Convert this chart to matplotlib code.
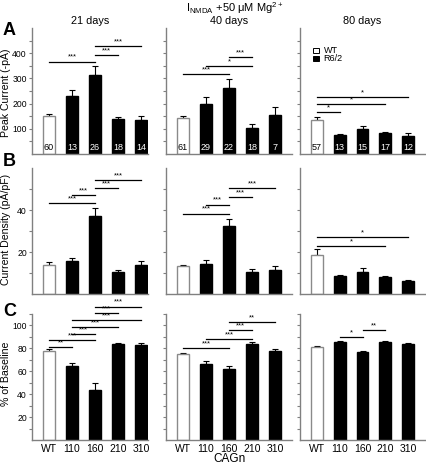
import matplotlib
matplotlib.use("Agg")
import matplotlib.pyplot as plt
from matplotlib.patches import Rectangle

plt.rcParams['font.family'] = ['Liberation Sans', 'DejaVu Sans']

# ---------------- data ----------------
groups = ['WT', '110', '160', '210', '310']
ages = ['21 days', '40 days', '80 days']

peak_21 = [150, 231, 312, 139, 135]
peak_21_err = [7, 22, 39, 9, 17]
peak_40 = [143, 200, 260, 104, 154]
peak_40_err = [8, 28, 39, 14, 31]
peak_80 = [134, 74, 101, 83, 72]
peak_80_err = [13, 5, 9, 5, 11]

n_21 = ['60', '13', '26', '18', '14']
n_40 = ['61', '29', '22', '18', '7']
n_80 = ['57', '13', '15', '17', '12']

dens_21 = [14.0, 15.7, 37.0, 10.5, 13.9]
dens_21_err = [1.1, 1.3, 3.8, 0.7, 1.6]
dens_40 = [13.1, 14.5, 32.2, 10.4, 11.5]
dens_40_err = [0.9, 1.6, 3.4, 1.4, 1.7]
dens_80 = [18.8, 8.4, 10.7, 7.9, 6.0]
dens_80_err = [2.6, 0.6, 1.6, 0.6, 0.6]

base_21 = [77.7, 64.6, 43.7, 83.5, 83.1]
base_21_err = [1.4, 2.4, 5.8, 1.1, 1.8]
base_40 = [75.0, 66.1, 61.7, 83.5, 77.7]
base_40_err = [1.2, 2.9, 3.2, 1.7, 1.7]
base_80 = [80.9, 85.5, 76.8, 85.8, 83.5]
base_80_err = [0.8, 0.8, 1.1, 0.8, 1.1]

# significance: (from index, to index, height, label)
sig_A_21 = [(0, 2, 367, '***'), (2, 3, 391, '***'), (2, 4, 429, '***')]
sig_A_40 = [(0, 2, 316, '***'), (1, 3, 348, '*'), (2, 3, 384, '***')]
sig_A_80 = [(0, 1, 165, '*'), (0, 3, 197, '*'), (0, 4, 227, '*')]
sig_B_21 = [(0, 2, 43.2, '***'), (1, 2, 47.3, '***'), (2, 3, 50.4, '***'), (2, 4, 54.2, '***')]
sig_B_40 = [(0, 2, 38.3, '***'), (1, 2, 42.6, '***'), (2, 3, 46.3, '***'), (2, 4, 50.4, '***')]
sig_B_80 = [(0, 3, 22.8, '*'), (0, 4, 27.3, '*')]
sig_C_21 = [(0, 1, 80.9, '**'), (0, 2, 87.0, '***'), (1, 2, 92.7, '***'), (1, 3, 98.5, '***'),
            (1, 4, 104.6, '***'), (2, 3, 110.7, '***'), (2, 4, 116.5, '***')]
sig_C_40 = [(0, 2, 80.0, '***'), (1, 3, 87.8, '***'), (2, 3, 95.9, '***'), (2, 4, 102.6, '**')]
sig_C_80 = [(1, 2, 89.6, '*'), (2, 3, 96.0, '**')]

rows = [
    dict(vals=[peak_21, peak_40, peak_80], errs=[peak_21_err, peak_40_err, peak_80_err],
         sigs=[sig_A_21, sig_A_40, sig_A_80], ylim=500, major=[100, 200, 300, 400],
         minor=[50, 150, 250, 350, 450], ylabel='Peak Current (-pA)', letter='A'),
    dict(vals=[dens_21, dens_40, dens_80], errs=[dens_21_err, dens_40_err, dens_80_err],
         sigs=[sig_B_21, sig_B_40, sig_B_80], ylim=60, major=[20, 40],
         minor=[10, 30, 50], ylabel='Current Density (pA/pF)', letter='B'),
    dict(vals=[base_21, base_40, base_80], errs=[base_21_err, base_40_err, base_80_err],
         sigs=[sig_C_21, sig_C_40, sig_C_80], ylim=110, major=[20, 40, 60, 80, 100],
         minor=[10, 30, 50, 70, 90, 110], ylabel='% of Baseline', letter='C'),
]
counts = [n_21, n_40, n_80]

# ---------------- layout (pixels) ----------------
W, H = 426, 465
fig = plt.figure(figsize=(W / 100, H / 100), dpi=100)

col_x = [(32, 148), (166, 292), (300, 425)]
col_xlim = [(-0.74, 4.3), (-0.74, 4.74), (-0.74, 4.74)]
row_y = [(28, 154), (168, 294), (314, 440)]
letter_y = [30.5, 162, 311]
label_y = [93, 229, 374]

spine_c = '#808080'

def px_axes(x0, x1, y0, y1):
    return fig.add_axes([x0 / W, 1 - y1 / H, (x1 - x0) / W, (y1 - y0) / H])

xs = list(range(len(groups)))
for r, row in enumerate(rows):
    for c in range(3):
        ax = px_axes(col_x[c][0], col_x[c][1], row_y[r][0], row_y[r][1])
        vals = row['vals'][c]
        errs = row['errs'][c]
        colors = ['white'] + ['black'] * 4
        edges = ['#8a8a8a'] + ['black'] * 4
        ax.bar(xs, vals, width=0.52, color=colors, edgecolor=edges, linewidth=1.0, zorder=2)
        ax.errorbar(xs, vals, yerr=[[0] * 5, errs], fmt='none', ecolor='black',
                    elinewidth=0.8, capsize=2.2, capthick=0.8, zorder=1)
        ax.set_xlim(*col_xlim[c])
        ax.set_ylim(0, row['ylim'])
        ax.set_yticks(row['major'])
        ax.set_yticks(row['minor'], minor=True)
        for s in ['top', 'right']:
            ax.spines[s].set_visible(False)
        for s in ['left', 'bottom']:
            ax.spines[s].set_color(spine_c)
            ax.spines[s].set_linewidth(1.0)
        ax.tick_params(axis='y', which='both', direction='out', length=2.5, width=0.8,
                       color=spine_c, labelsize=6.2, pad=1.2)
        ax.tick_params(axis='x', length=0, labelsize=7.5, pad=3)
        ax.set_xticks(xs)
        if r == 2:
            ax.set_xticklabels(groups)
        else:
            ax.set_xticklabels([])
        if c != 0:
            ax.set_yticklabels([])
        # significance bars
        for (i, j, y, lab) in row['sigs'][c]:
            ax.plot([i, j], [y, y], color='black', lw=0.9, clip_on=False, zorder=3)
            ax.text((i + j) / 2, y + row['ylim'] * 0.006, lab, ha='center', va='bottom',
                    fontsize=5.5, clip_on=False)
        # counts inside bars (row A)
        if r == 0:
            for k, t in enumerate(counts[c]):
                ax.text(k, 0.05, t, transform=ax.get_xaxis_transform(), ha='center',
                        va='center', fontsize=6.5, color='black' if k == 0 else 'white')
            ax.set_title(ages[c], fontsize=7.8, pad=3)
            if c == 2:
                ax.add_patch(Rectangle((0.1, 0.80), 0.05, 0.04, transform=ax.transAxes,
                                       facecolor='white', edgecolor='black', lw=0.7))
                ax.add_patch(Rectangle((0.1, 0.735), 0.05, 0.04, transform=ax.transAxes,
                                       facecolor='black', edgecolor='black', lw=0.7))
                ax.text(0.19, 0.82, 'WT', transform=ax.transAxes, fontsize=6.5, va='center')
                ax.text(0.19, 0.755, 'R6/2', transform=ax.transAxes, fontsize=6.5, va='center')
    fig.text(3 / W, 1 - letter_y[r] / H, row['letter'], fontsize=13, fontweight='bold',
             ha='left', va='center')
    fig.text(6.5 / W, 1 - label_y[r] / H, row['ylabel'], fontsize=7.6, rotation=90,
             ha='center', va='center')

fig.text(229 / W, 1 - 459 / H, 'CAGn', fontsize=8.5, ha='center', va='center')
fig.text(235 / W, 1 - 8 / H, r'I$_{\mathregular{NMDA}}$ +50 $\mathregular{\mu}$M Mg$^{\mathregular{2+}}$',
         ha='center', va='center', fontsize=8)

fig.savefig('out.png', dpi=100)
